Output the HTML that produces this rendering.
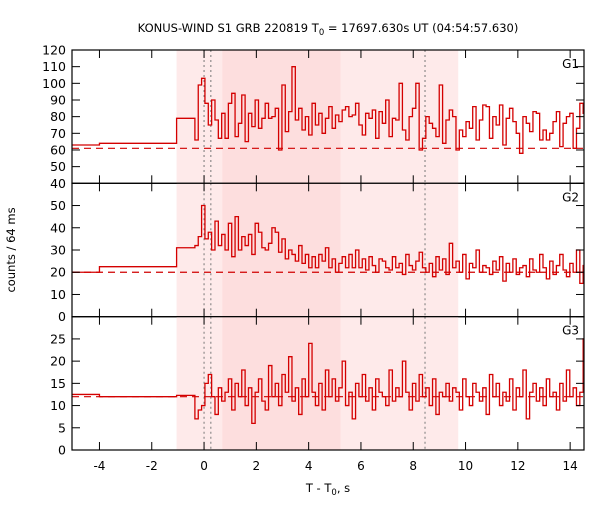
<!DOCTYPE html>
<html><head><meta charset="utf-8"><style>
body{margin:0;background:#fff}
svg{font-family:"DejaVu Sans","Liberation Sans",sans-serif}
</style></head><body>
<svg id="chart" width="600" height="500" viewBox="0 0 600 500" xmlns="http://www.w3.org/2000/svg">
<text x="328" y="32" font-size="11.5" text-anchor="middle">KONUS-WIND S1 GRB 220819 T<tspan font-size="8.5" dy="3">0</tspan><tspan dy="-3"> = 17697.630s UT (04:54:57.630)</tspan></text>
<text transform="translate(15,250) rotate(-90)" font-size="11.5" text-anchor="middle">counts / 64 ms</text>
<text x="328" y="492" font-size="11.5" text-anchor="middle">T - T<tspan font-size="8.5" dy="3">0</tspan><tspan dy="-3">, s</tspan></text>
</svg>
<script>
const binStart = -0.35;
const binWidth = 0.128;
const g1Pre = [[-5.05,-4,63],[-4,-1.05,64],[-1.05,-0.35,79]];
const g2Pre = [[-5.05,-4,20],[-4,-1.05,22.5],[-1.05,-0.35,31]];
const g3Pre = [[-5.05,-4,12.5],[-4,-1.05,12],[-1.05,-0.35,12.3]];
const g1Values = [66,99,103,88,75,90,78,67,82,67,88,94,68,76,93,65,82,74,90,73,79,88,79,80,85,60,99,71,83,110,78,85,72,80,69,88,75,82,70,79,86,73,81,77,84,86,80,81,88,75,69,82,79,84,67,83,76,90,68,79,78,100,72,66,80,85,100,60,67,80,76,73,68,99,64,78,84,80,60,72,68,77,73,86,66,78,87,86,67,80,75,87,63,79,85,77,70,58,80,76,71,83,82,66,72,66,70,77,83,62,76,80,82,61,73,88,82];
const g2Values = [32,36,50,35,38,30,43,32,37,30,42,27,45,30,36,32,37,28,42,38,31,30,33,40,38,29,35,26,30,28,25,32,24,28,22,27,22,28,25,31,22,26,20,24,27,22,28,22,30,22,26,21,27,23,20,26,25,22,21,27,22,24,19,28,23,21,25,29,22,20,24,18,27,21,26,19,33,22,25,20,28,17,24,22,30,20,23,22,19,25,21,27,16,24,20,26,19,22,23,18,26,21,20,28,22,17,25,19,23,28,21,18,24,20,30,15,23];
const g3Values = [7,9,10,15,17,12,8,14,11,13,16,9,15,12,18,10,14,6,13,16,11,9,19,12,15,10,17,13,21,11,14,8,16,12,24,13,10,15,9,18,12,16,11,14,20,10,13,7,15,12,17,11,14,9,16,13,12,10,18,11,14,12,20,13,9,15,11,17,12,14,10,16,8,13,12,15,11,14,13,9,16,12,10,15,13,11,14,8,17,12,15,10,13,11,16,9,14,12,18,7,13,15,11,14,10,16,12,13,9,15,11,18,12,14,10,13,25];
const backgrounds = [61,20,12];
const xTicks = [-4,-2,0,2,4,6,8,10,12,14];
const g1Ticks = [40,50,60,70,80,90,100,110,120];
const g2Ticks = [0,10,20,30,40,50];
const g3Ticks = [0,5,10,15,20,25];
const lightRegion = [-1.05,9.72];
const darkRegion = [0.7,5.22];
const dottedLines = [0,0.26,8.45];

const NS="http://www.w3.org/2000/svg";
const svg=document.getElementById('chart');
const L=72,R=584,XMIN=-5.05,XMAX=14.53;
const x=v=>L+(v-XMIN)/(XMAX-XMIN)*(R-L);
const panels=[
 {top:50,bot:183.3,min:40,max:120,pre:g1Pre,vals:g1Values,ticks:g1Ticks,label:'G1',bg:backgrounds[0]},
 {top:183.3,bot:316.7,min:0,max:60,pre:g2Pre,vals:g2Values,ticks:g2Ticks,label:'G2',bg:backgrounds[1]},
 {top:316.7,bot:450,min:0,max:30,pre:g3Pre,vals:g3Values,ticks:g3Ticks,label:'G3',bg:backgrounds[2]}];
function mk(tag,attrs,parent){const e=document.createElementNS(NS,tag);for(const k in attrs)e.setAttribute(k,attrs[k]);(parent||svg).appendChild(e);return e;}
const clip=mk('clipPath',{id:'plotclip'});mk('rect',{x:L,y:50,width:R-L,height:400},clip);

panels.forEach((p,i)=>{
 const y=v=>p.bot-(v-p.min)/(p.max-p.min)*(p.bot-p.top);
 const g=mk('g',{'clip-path':'url(#plotclip)'});
 
 
 const lr=mk('rect',{x:x(lightRegion[0]),y:p.top,width:x(lightRegion[1])-x(lightRegion[0]),height:p.bot-p.top,fill:'#feeaea'},g);
 
 
 const dr=mk('rect',{x:x(darkRegion[0]),y:p.top,width:x(darkRegion[1])-x(darkRegion[0]),height:p.bot-p.top,fill:'#fddede'},g);
 
 
 dottedLines.forEach(d=>{const l=mk('line',{x1:x(d),x2:x(d),y1:p.top,y2:p.bot,stroke:'#777','stroke-dasharray':'2,3','stroke-width':1},g);
  
  });
 const bl=mk('line',{x1:L,x2:R,y1:y(p.bg),y2:y(p.bg),stroke:'#d00000','stroke-dasharray':'7,5','stroke-width':1.2},g);
 
 
 let d='';
 p.pre.forEach((s,j)=>{d+=(j===0?'M':'L')+x(s[0])+','+y(s[2])+'L'+x(s[1])+','+y(s[2]);});
 p.vals.forEach((v,j)=>{const t0=binStart+j*binWidth;d+='L'+x(t0)+','+y(v)+'L'+x(t0+binWidth)+','+y(v);});
 const path=mk('path',{d:d,fill:'none',stroke:'#d40000','stroke-width':1.3},g);
 
 
 const fr=mk('rect',{x:L,y:p.top,width:R-L,height:p.bot-p.top,fill:'none',stroke:'#000','stroke-width':1.2});
 
 
 p.ticks.forEach(t=>{
  mk('line',{x1:L,x2:L+8,y1:y(t),y2:y(t),stroke:'#000'});
  mk('line',{x1:R-8,x2:R,y1:y(t),y2:y(t),stroke:'#000'});
  const tl=mk('text',{x:L-6,y:y(t)+4.5,'font-size':12.5,'text-anchor':'end'});tl.textContent=t;
  
  
 });
 xTicks.forEach(t=>{
  mk('line',{x1:x(t),x2:x(t),y1:p.bot,y2:p.bot-8,stroke:'#000'});
  mk('line',{x1:x(t),x2:x(t),y1:p.top,y2:p.top+8,stroke:'#000'});
 });
 const lab=mk('text',{x:R-5,y:p.top+18,'font-size':12,'text-anchor':'end'});lab.textContent=p.label;
 
 
});
xTicks.forEach(t=>{const tl=mk('text',{x:x(t),y:470,'font-size':12,'text-anchor':'middle'});tl.textContent=t;
 
 });
</script>
</body></html>
